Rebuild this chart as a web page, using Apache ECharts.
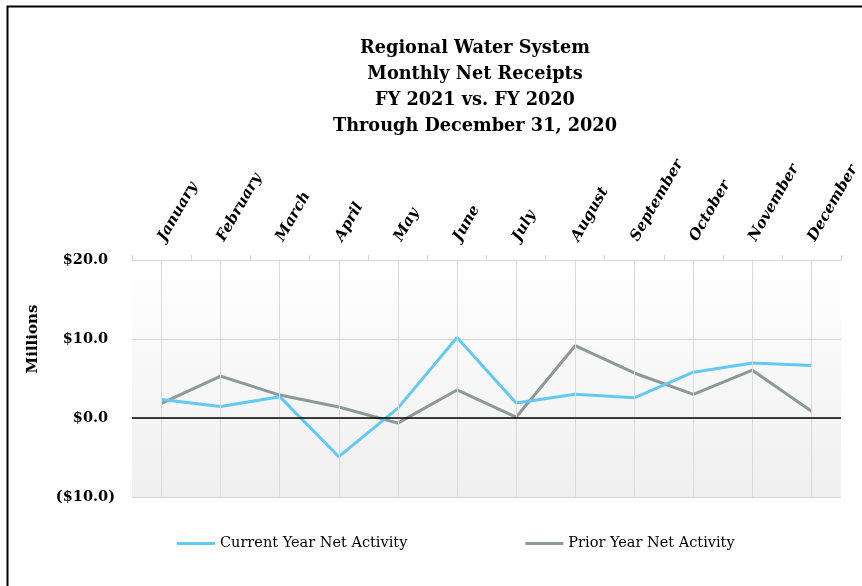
<!DOCTYPE html>
<html>
<head>
<meta charset="utf-8">
<script src="https://cdn.jsdelivr.net/npm/echarts@6/dist/echarts.min.js"></script>
<style>html,body{margin:0;padding:0;background:#fff}#c{width:862px;height:586px}</style>
</head>
<body>
<div id="c"></div>
<script>
const months = ['January','February','March','April','May','June','July','August','September','October','November','December'];
const currentYear = [2.35, 1.45, 2.7, -4.9, 1.25, 10.2, 1.9, 3.0, 2.55, 5.8, 6.95, 6.65];
const priorYear = [1.85, 5.3, 2.9, 1.4, -0.65, 3.55, 0.1, 9.15, 5.7, 3.0, 6.05, 0.85];
const yTicks = {min: -10, max: 20, interval: 10};
const titleLines = ['Regional Water System','Monthly Net Receipts','FY 2021 vs. FY 2020','Through December 31, 2020'];
const seriesNames = ['Current Year Net Activity','Prior Year Net Activity'];

const SERIF = '"DejaVu Serif", "Liberation Serif", serif';
const chart = echarts.init(document.getElementById('c'), null, {renderer: 'canvas'});

function fmt(v) {
  const s = '$' + Math.abs(v).toFixed(1);
  return v < 0 ? '(' + s + ')' : s + '{h|)}';
}

chart.setOption({
  animation: false,
  backgroundColor: '#fff',
  title: {
    text: titleLines.join('\n'),
    left: 470, top: 30, textAlign: 'center',
    textStyle: {fontFamily: SERIF, fontWeight: 'bold', fontSize: 17.7, lineHeight: 26, color: '#000'}
  },
  graphic: [
    {type: 'polyline', silent: true, shape: {points: [[7.5, 586], [7.5, 6.5], [862, 6.5]]}, style: {stroke: '#000', lineWidth: 2, fill: null}},
    {type: 'text', x: 33, y: 339, rotation: Math.PI / 2, silent: true,
     style: {text: 'Millions', align: 'center', verticalAlign: 'middle', font: 'bold 15px ' + SERIF, fill: '#000'}}
  ],
  legend: {
    bottom: 30, left: 172,
    itemGap: 118, itemWidth: 38, itemHeight: 3,
    icon: 'rect',
    textStyle: {fontFamily: SERIF, fontSize: 14.5, color: '#000'},
    data: seriesNames
  },
  grid: {
    left: 132, right: 20, top: 260, bottom: 89,
    show: true, borderWidth: 0,
    backgroundColor: new echarts.graphic.LinearGradient(0, 0, 0, 1, [
      {offset: 0, color: '#ffffff'}, {offset: 1, color: '#efefef'}
    ])
  },
  xAxis: {
    type: 'category', data: months, position: 'top', boundaryGap: true,
    axisLine: {show: true, onZero: false, lineStyle: {color: '#d4d4d4', width: 1}},
    axisTick: {show: true, length: 5, lineStyle: {color: '#d4d4d4'}},
    axisLabel: {rotate: -60, margin: 20, interval: 0, fontFamily: SERIF, fontStyle: 'italic', fontWeight: 'bold', fontSize: 15, color: '#000'},
    splitLine: {show: false}
  },
  yAxis: {
    type: 'value', min: yTicks.min, max: yTicks.max, interval: yTicks.interval,
    axisLine: {show: false}, axisTick: {show: false},
    axisLabel: {margin: 17, formatter: fmt, fontFamily: SERIF, fontWeight: 'bold', fontSize: 14.5, color: '#000',
      rich: {h: {color: 'rgba(0,0,0,0)', fontFamily: SERIF, fontWeight: 'bold', fontSize: 14.5}}},
    splitLine: {show: true, lineStyle: {color: '#d4d4d4', width: 1}}
  },
  series: [
    {
      name: seriesNames[0], type: 'line', data: currentYear, showSymbol: false, symbol: 'none',
      lineStyle: {color: '#63c8f2', width: 3}, itemStyle: {color: '#63c8f2'}, z: 4,
      markLine: {
        silent: true, symbol: 'none', label: {show: false}, animation: false,
        data: months.map(m => ({xAxis: m, lineStyle: {color: '#dadada', width: 1, type: 'solid'}}))
          .concat([{yAxis: 0, lineStyle: {color: '#000', width: 1.5, type: 'solid'}}])
      }
    },
    {
      name: seriesNames[1], type: 'line', data: priorYear, showSymbol: false, symbol: 'none',
      lineStyle: {color: '#8c9995', width: 3}, itemStyle: {color: '#8c9995'}, z: 3
    }
  ]
});
</script>
</body>
</html>
